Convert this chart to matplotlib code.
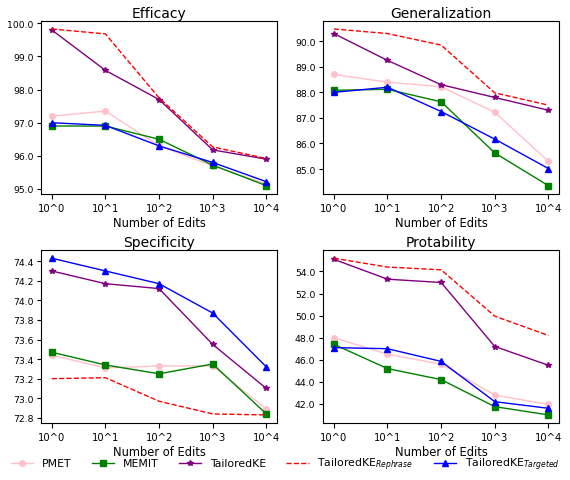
import numpy as np
import matplotlib
matplotlib.use("Agg")
import matplotlib.pyplot as plt
from matplotlib.ticker import FormatStrFormatter, MultipleLocator

xticks = ['10^0', '10^1', '10^2', '10^3', '10^4']
methods = ['PMET', 'MEMIT', 'TailoredKE', r'TailoredKE$_{Rephrase}$', r'TailoredKE$_{Targeted}$']

efficacy_pmet = [97.2, 97.35, 96.3, 95.7, 95.15]
efficacy_memit = [96.9, 96.9, 96.5, 95.72, 95.1]
efficacy_tailored = [99.8, 98.58, 97.7, 96.18, 95.9]
efficacy_rephrase = [99.83, 99.68, 97.75, 96.27, 95.92]
efficacy_targeted = [97.0, 96.92, 96.3, 95.8, 95.22]

general_pmet = [88.7, 88.4, 88.22, 87.22, 85.3]
general_memit = [88.08, 88.12, 87.63, 85.63, 84.35]
general_tailored = [90.3, 89.25, 88.3, 87.8, 87.3]
general_rephrase = [90.48, 90.3, 89.85, 87.98, 87.5]
general_targeted = [88.0, 88.2, 87.25, 86.17, 85.02]

spec_pmet = [73.44, 73.31, 73.33, 73.33, 72.89]
spec_memit = [73.47, 73.34, 73.25, 73.35, 72.84]
spec_tailored = [74.30, 74.17, 74.12, 73.55, 73.10]
spec_rephrase = [73.20, 73.21, 72.97, 72.84, 72.83]
spec_targeted = [74.43, 74.30, 74.17, 73.87, 73.32]

prot_pmet = [48.0, 46.5, 45.6, 42.8, 41.95]
prot_memit = [47.4, 45.2, 44.2, 41.75, 41.0]
prot_tailored = [55.1, 53.3, 53.0, 47.2, 45.5]
prot_rephrase = [55.2, 54.4, 54.15, 49.95, 48.2]
prot_targeted = [47.1, 47.0, 45.85, 42.2, 41.6]

panels = [
    ('Efficacy', [efficacy_pmet, efficacy_memit, efficacy_tailored, efficacy_rephrase, efficacy_targeted], 1.0),
    ('Generalization', [general_pmet, general_memit, general_tailored, general_rephrase, general_targeted], 1.0),
    ('Specificity', [spec_pmet, spec_memit, spec_tailored, spec_rephrase, spec_targeted], 0.2),
    ('Protability', [prot_pmet, prot_memit, prot_tailored, prot_rephrase, prot_targeted], 2.0),
]

styles = [
    dict(color='pink', marker='o', linestyle='-', markersize=4),
    dict(color='green', marker='s', linestyle='-', markersize=4),
    dict(color='purple', marker='*', linestyle='-', markersize=4),
    dict(color='red', marker=None, linestyle='--'),
    dict(color='blue', marker='^', linestyle='-', markersize=4),
]

fig, axes = plt.subplots(2, 2, figsize=(5.7, 4.81), dpi=100)
fig.subplots_adjust(left=0.072, right=0.981, top=0.954, bottom=0.119, wspace=0.195, hspace=0.33)

x = np.arange(len(xticks))
handles = []
for ax, (title, series, step) in zip(axes.flat, panels):
    handles = []
    for vals, st, name in zip(series, styles, methods):
        h, = ax.plot(x, vals, linewidth=1, label=name, **st)
        handles.append(h)
    ax.set_title(title, fontsize=10, pad=3)
    ax.set_xticks(x)
    ax.set_xticklabels(xticks, fontsize=7.2)
    ax.tick_params(axis='y', labelsize=6.7, length=3, pad=2.5)
    ax.yaxis.set_major_locator(MultipleLocator(step))
    ax.yaxis.set_major_formatter(FormatStrFormatter('%.1f'))
    ax.set_xlabel('Number of Edits', fontsize=8.3, labelpad=2)

fig.legend(handles, methods, loc='lower center', ncol=5, frameon=False,
           fontsize=7.8, bbox_to_anchor=(0.5, -0.004), columnspacing=1.9,
           handlelength=2.1, handletextpad=0.75)

fig.savefig('out.png', dpi=100)
